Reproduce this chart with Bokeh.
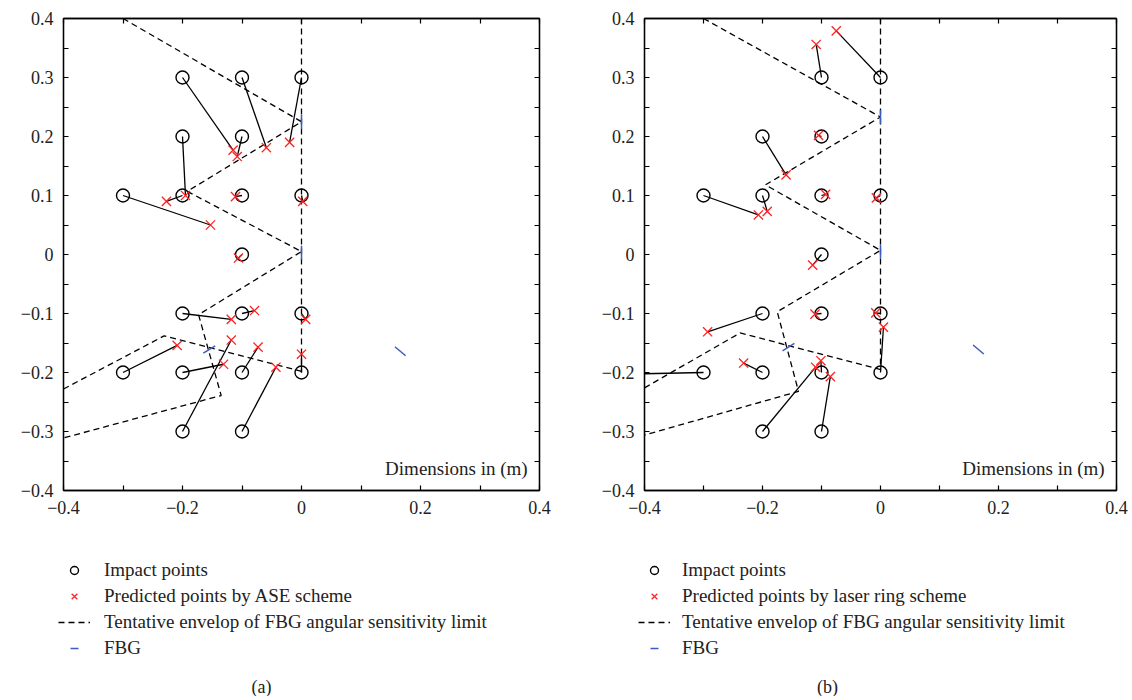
from bokeh.plotting import figure
from bokeh.layouts import row, column
from bokeh.models import FixedTicker, LinearAxis, Label, Legend, LegendItem, Range1d
from bokeh.embed import file_html
from bokeh.resources import INLINE
import math

# ---------------- data ----------------
# (a) ASE scheme
ase_impact_x = [-0.2, -0.1, 0.0, -0.2, -0.1, -0.3, -0.2, -0.1, 0.0, -0.1,
                -0.2, -0.1, 0.0, -0.3, -0.2, -0.1, 0.0, -0.2, -0.1]
ase_impact_y = [0.3, 0.3, 0.3, 0.2, 0.2, 0.1, 0.1, 0.1, 0.1, 0.0,
                -0.1, -0.1, -0.1, -0.2, -0.2, -0.2, -0.2, -0.3, -0.3]
ase_pred_x = [-0.115, -0.059, -0.020, -0.195, -0.108, -0.153, -0.227, -0.111, 0.002, -0.106,
              -0.118, -0.079, 0.007, -0.209, -0.131, -0.073, 0.000, -0.118, -0.043]
ase_pred_y = [0.177, 0.181, 0.190, 0.100, 0.166, 0.050, 0.090, 0.098, 0.090, -0.006,
              -0.110, -0.095, -0.110, -0.154, -0.186, -0.157, -0.169, -0.145, -0.191]
ase_env_x = [[-0.3, 0.0, -0.192, 0.0, -0.173, -0.135, -0.4], [-0.4, -0.231, 0.0], [0.0, 0.0]]
ase_env_y = [[0.4, 0.225, 0.107, 0.005, -0.102, -0.239, -0.311], [-0.228, -0.138, -0.198], [0.4, -0.2]]
ase_fbg_x = [0.0, 0.0, -0.155, 0.166]
ase_fbg_y = [0.225, 0.003, -0.161, -0.164]

# (b) laser ring scheme
ring_impact_x = [-0.1, 0.0, -0.2, -0.1, -0.3, -0.2, -0.1, 0.0, -0.1,
                 -0.2, -0.1, 0.0, -0.3, -0.2, -0.1, 0.0, -0.2, -0.1]
ring_impact_y = [0.3, 0.3, 0.2, 0.2, 0.1, 0.1, 0.1, 0.1, 0.0,
                 -0.1, -0.1, -0.1, -0.2, -0.2, -0.2, -0.2, -0.3, -0.3]
ring_pred_x = [-0.109, -0.075, -0.160, -0.105, -0.207, -0.192, -0.093, -0.007, -0.115,
               -0.293, -0.111, -0.008, -0.489, -0.232, -0.101, 0.005, -0.110, -0.085]
ring_pred_y = [0.356, 0.379, 0.135, 0.202, 0.067, 0.073, 0.102, 0.096, -0.018,
               -0.131, -0.101, -0.099, -0.204, -0.184, -0.180, -0.123, -0.191, -0.207]
ring_env_x = [[-0.3, 0.0, -0.195, 0.0, -0.175, -0.139, -0.4], [-0.4, -0.238, 0.0], [0.0, 0.0]]
ring_env_y = [[0.4, 0.233, 0.118, 0.007, -0.097, -0.232, -0.306], [-0.226, -0.133, -0.195], [0.4, -0.195]]
ring_fbg_x = [0.0, 0.0, -0.156, 0.166]
ring_fbg_y = [0.233, 0.005, -0.157, -0.161]

fbg_angle_deg = [90, 90, 32, -40]

x_ticks = [-0.4, -0.2, 0.0, 0.2, 0.4]
x_minor = [-0.3, -0.1, 0.1, 0.3]
y_ticks = [-0.4, -0.3, -0.2, -0.1, 0.0, 0.1, 0.2, 0.3, 0.4]
y_minor = [-0.35, -0.25, -0.15, -0.05, 0.05, 0.15, 0.25, 0.35]

legend_labels_a = ["Impact points", "Predicted points by ASE scheme",
                   "Tentative envelop of FBG angular sensitivity limit", "FBG"]
legend_labels_b = ["Impact points", "Predicted points by laser ring scheme",
                   "Tentative envelop of FBG angular sensitivity limit", "FBG"]

FONT = "Liberation Serif"
TXT = "#222222"
RED = "#ff2222"
BLUE = "#3d5cc0"
TOP_H = 520
LEG_H = 176


def lab(v):
    if abs(v) < 1e-9:
        return "0"
    s = "%.1f" % abs(v)
    return ("\u2212" + s) if v < 0 else s


def style_axis(ax, ticks, minor, show_labels):
    ax.ticker = FixedTicker(ticks=ticks, minor_ticks=minor)
    ax.major_tick_in = 5
    ax.major_tick_out = 0
    ax.minor_tick_in = 5
    ax.minor_tick_out = 0
    ax.axis_line_color = "black"
    ax.axis_line_width = 1.3
    ax.major_tick_line_color = "black"
    ax.minor_tick_line_color = "black"
    ax.major_tick_line_width = 1.2
    ax.minor_tick_line_width = 1.2
    if show_labels:
        ax.major_label_overrides = {t: lab(t) for t in ticks}
        ax.major_label_text_font = FONT
        ax.major_label_text_font_size = "18px"
        ax.major_label_text_color = TXT
        ax.major_label_standoff = 10
    else:
        ax.major_label_overrides = {t: "" for t in ticks}
        ax.major_label_text_font_size = "0px"
        ax.major_label_standoff = 0


def make_panel(ix, iy, px, py, env_x, env_y, fbg_x, fbg_y,
               width, b_left, b_right, b_top):
    p = figure(width=width, height=TOP_H, output_backend="svg", toolbar_location=None,
               x_range=Range1d(-0.4, 0.4), y_range=Range1d(-0.4, 0.4),
               min_border_left=b_left, min_border_right=b_right,
               min_border_top=b_top, min_border_bottom=30,
               x_axis_location=None, y_axis_location=None)
    p.grid.visible = False
    p.outline_line_color = "black"
    p.outline_line_width = 1.3

    xb = LinearAxis(); style_axis(xb, x_ticks, x_minor, True); p.add_layout(xb, "below")
    xa = LinearAxis(); style_axis(xa, x_ticks, x_minor, False); p.add_layout(xa, "above")
    yl = LinearAxis(); style_axis(yl, y_ticks, y_minor, True); p.add_layout(yl, "left")
    yr = LinearAxis(); style_axis(yr, y_ticks, y_minor, False); p.add_layout(yr, "right")

    p.multi_line(xs=env_x, ys=env_y, line_color="black", line_width=1.3, line_dash="6 4")
    p.segment(x0=ix, y0=iy, x1=px, y1=py, line_color="black", line_width=1.3)
    p.scatter(ix, iy, marker="circle", size=13, fill_color=None,
              line_color="black", line_width=1.4)
    p.scatter(px, py, marker="x", size=13, line_color=RED, line_width=1.3)
    p.scatter(fbg_x, fbg_y, marker="dash", size=14,
              angle=[math.radians(a) for a in fbg_angle_deg],
              line_color=BLUE, line_width=1.5)

    p.add_layout(Label(x=0.380, y=-0.362, text="Dimensions in (m)", text_align="right",
                       text_baseline="middle", text_font=FONT,
                       text_font_size="19px", text_color=TXT))
    return p


def make_legend(width, labels, tag, tag_x, leg_x, standoff):
    q = figure(width=width, height=LEG_H, output_backend="svg", toolbar_location=None,
               x_range=Range1d(0, width), y_range=Range1d(0, LEG_H),
               min_border=0, min_border_left=0, min_border_right=0,
               min_border_top=0, min_border_bottom=0,
               x_axis_location=None, y_axis_location=None)
    q.grid.visible = False
    q.outline_line_color = None
    # legend key renderers, placed outside the visible range so only the keys show
    r_circ = q.scatter([-50], [-50], marker="circle", fill_color=None,
                       line_color="black", line_width=1.4)
    r_x = q.scatter([-50], [-50], marker="x", line_color=RED, line_width=1.3)
    r_env = q.multi_line(xs=[[-60, -50]], ys=[[-60, -50]], line_color="black",
                         line_width=1.3, line_dash="6 4")
    r_fbg = q.scatter([-50], [-50], marker="dash", line_color=BLUE, line_width=1.5)
    legend = Legend(items=[
        LegendItem(label=labels[0], renderers=[r_circ]),
        LegendItem(label=labels[1], renderers=[r_x]),
        LegendItem(label=labels[2], renderers=[r_env]),
        LegendItem(label=labels[3], renderers=[r_fbg]),
    ], location=(leg_x, 37), orientation="vertical")
    legend.border_line_color = None
    legend.background_fill_alpha = 0
    legend.padding = 0
    legend.margin = 0
    legend.spacing = 4
    legend.glyph_width = 32
    legend.glyph_height = 20
    legend.label_height = 20
    legend.label_standoff = standoff
    legend.label_text_font = FONT
    legend.label_text_font_size = "19px"
    legend.label_text_color = TXT
    q.add_layout(legend)
    q.add_layout(Label(x=tag_x, y=10, text=tag, text_align="center",
                       text_baseline="middle", text_font=FONT,
                       text_font_size="18px", text_color=TXT))
    return q


p1 = make_panel(ase_impact_x, ase_impact_y, ase_pred_x, ase_pred_y, ase_env_x, ase_env_y,
                ase_fbg_x, ase_fbg_y, 570, 63, 31, 13)
p2 = make_panel(ring_impact_x, ring_impact_y, ring_pred_x, ring_pred_y, ring_env_x, ring_env_y,
                ring_fbg_x, ring_fbg_y, 560, 74, 14, 18)
l1 = make_legend(570, legend_labels_a, "(a)", 261, 58, 14)
l2 = make_legend(560, legend_labels_b, "(b)", 257, 68, 12)

layout = column(row(p1, p2), row(l1, l2))
open("out.html", "w").write(file_html(layout, INLINE))
